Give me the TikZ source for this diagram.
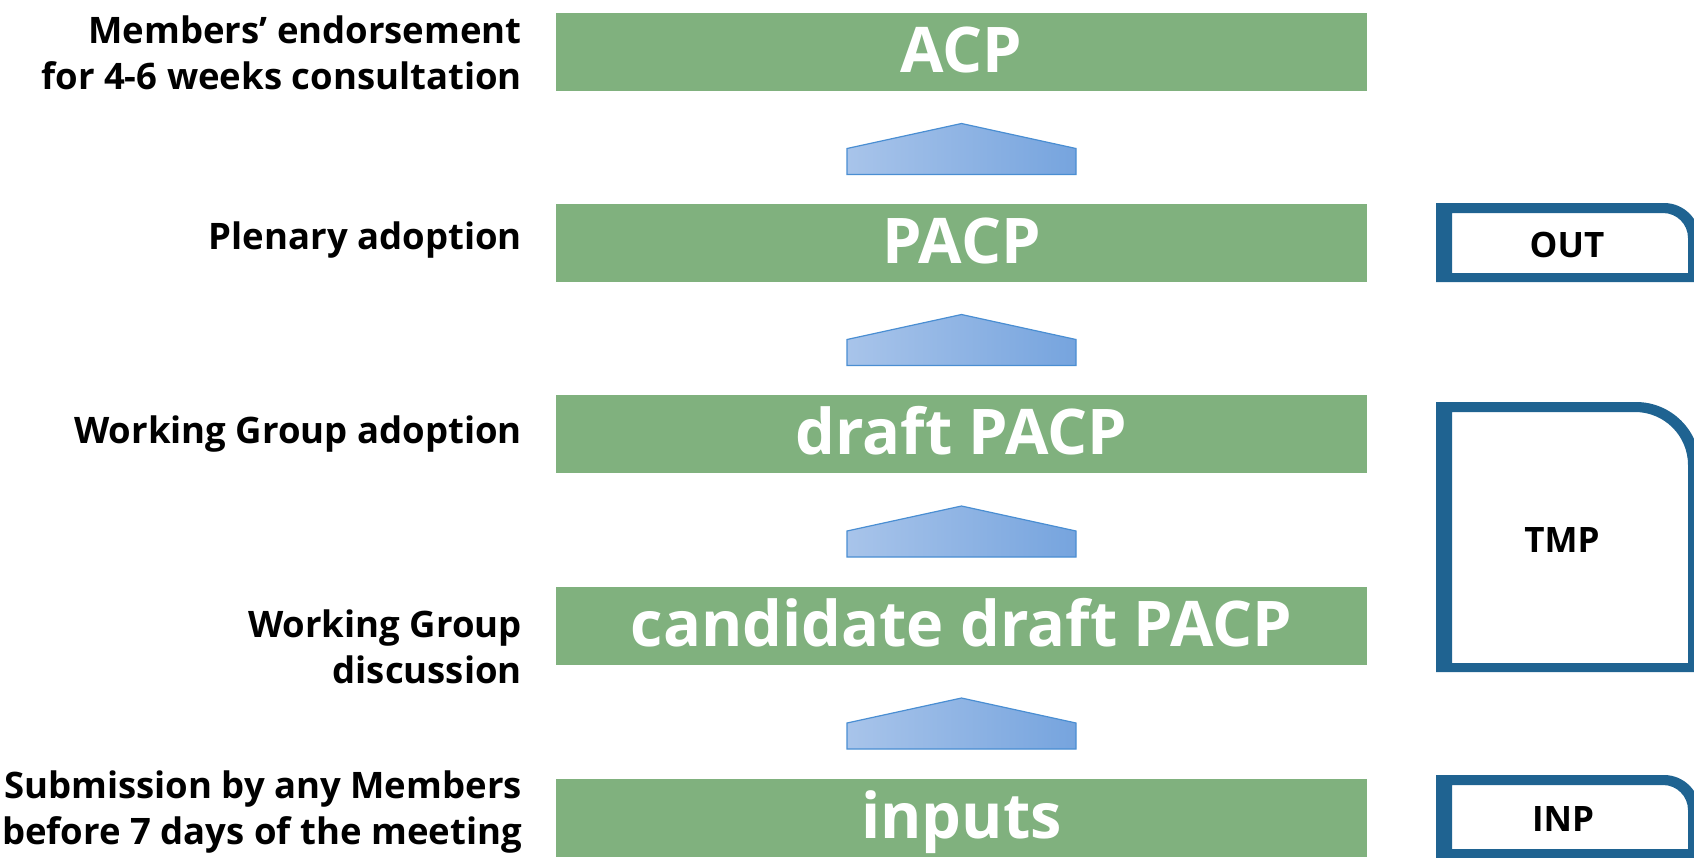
\documentclass[tikz,border=0pt]{standalone}
\usepackage{fontspec}
\setmainfont{Open Sans}
\usepackage{tikz}
\usetikzlibrary{positioning, calc}
\definecolor{stagegreen}{HTML}{80B17E}
\definecolor{frameblue}{HTML}{1F6391}
\definecolor{arrowlight}{HTML}{A8C4EA}
\definecolor{arrowdark}{HTML}{76A4DE}
\definecolor{arrowedge}{HTML}{4A8ED2}

\begin{document}
\begin{tikzpicture}[x=1pt, y=-1pt,
  stagebar/.style={fill=stagegreen, minimum width=811pt, minimum height=78pt, inner sep=0pt,
    text=white, text height=41pt, text depth=0pt, font=\fontsize{63}{63}\selectfont\bfseries},
  stagenote/.style={anchor=east, align=right, inner sep=0pt, font=\fontsize{36.5}{46}\selectfont\bfseries},
  uparrow/.style={left color=arrowlight, right color=arrowdark, draw=arrowedge, line width=1.2pt},
  tagtext/.style={inner sep=0pt, font=\fontsize{35}{35}\selectfont\bfseries}]
  \useasboundingbox (0,0) rectangle (1694,857);

  % Green stage bars, from top to bottom
  \foreach \name/\txt/\yc in {
    acp/ACP/52,
    pacp/PACP/243,
    draft/draft PACP/434,
    cand/candidate draft PACP/626,
    inputs/inputs/818
  } {
    \node[stagebar] (\name) at (961.5, \yc) {\txt};
  }

  % Labels on the left of each bar
  \node[stagenote] (noteacp) at (522, 53) {Members’ endorsement\\for 4-6 weeks consultation};
  \node[stagenote] (notepacp) at (522, 240) {Plenary adoption};
  \node[stagenote] (notedraft) at (522, 434) {Working Group adoption};
  \node[stagenote] (notecand) at (522, 647) {Working Group\\discussion};
  \node[stagenote] (noteinputs) at (522, 812) {Submission by any Members\\before 7 days of the meeting};

  % Block arrows between the bars
  \foreach \lo/\hi in {inputs/cand, cand/draft, draft/pacp, pacp/acp} {
    \draw[uparrow] ($(\lo.north)!0.5!(\hi.south)$) ++(-114.5, 27) -- ++(0, -26)
      -- ++(114.5, -25) -- ++(114.5, 25) -- ++(0, 26) -- cycle;
  }

  % Frames on the right (cut by the page edge)
  \foreach \top/\bot/\rad in {203/282/36, 402/672/64, 775/858/36} {
    \pgfmathsetmacro{\inrad}{\rad-11}
    \fill[frameblue, even odd rule]
      (1436, \bot) -- (1436, \top) -- ({1700-\rad}, \top)
        arc[start angle=-90, end angle=0, radius=\rad] -- (1700, \bot) -- cycle
      (1452, \bot-9) -- (1452, \top+10) -- ({1688-\inrad}, \top+10)
        arc[start angle=-90, end angle=0, radius=\inrad] -- (1688, \bot-9) -- cycle;
  }
  \node[tagtext] (out) at (1567, 245) {OUT};
  \node[tagtext] (tmp) at (1562, 540) {TMP};
  \node[tagtext] (inp) at (1563, 819) {INP};
\end{tikzpicture}
\end{document}
